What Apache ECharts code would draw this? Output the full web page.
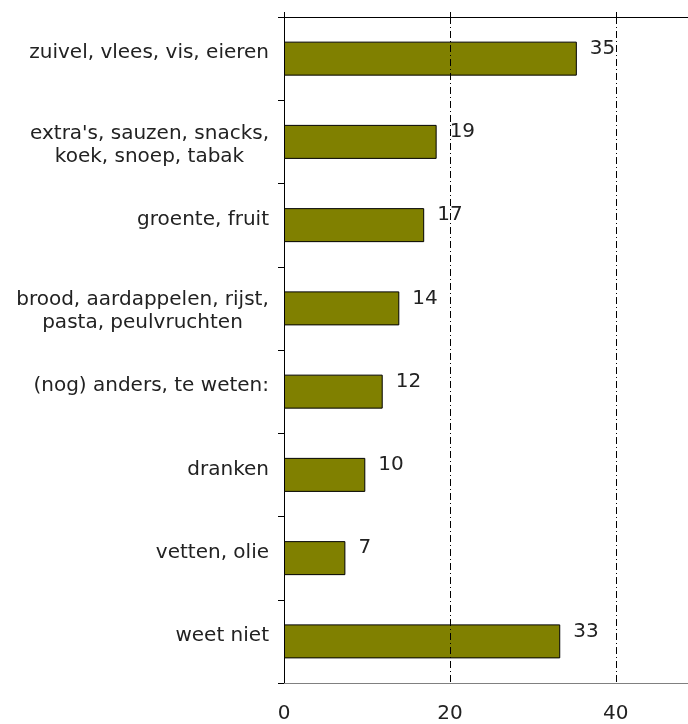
<!DOCTYPE html>
<html>
<head>
<meta charset="utf-8">
<script src="https://cdn.jsdelivr.net/npm/echarts@6/dist/echarts.min.js"></script>
<style>
  html, body { margin: 0; padding: 0; background: #fff; }
</style>
</head>
<body>
<div id="chart" style="width: 688px; height: 724px"></div>
<script>
// categories, top to bottom
const categories = [
  "zuivel, vlees, vis, eieren",
  "extra's, sauzen, snacks,\nkoek, snoep, tabak",
  "groente, fruit",
  "brood, aardappelen, rijst,\npasta, peulvruchten",
  "(nog) anders, te weten:",
  "dranken",
  "vetten, olie",
  "weet niet",
];
// bar lengths
const values = [35.3, 18.4, 16.9, 13.9, 11.9, 9.8, 7.4, 33.3];
// printed value labels
const valueLabels = ["35", "19", "17", "14", "12", "10", "7", "33"];
const xTicks = [0, 20, 40];

const chart = echarts.init(document.getElementById("chart"));
const font = "DejaVu Sans, Verdana, sans-serif";
const fontSize = 20;

// two-line labels are centred line by line, so give each line the width of the longest
const ctx = document.createElement("canvas").getContext("2d");
ctx.font = fontSize + "px " + font;
const rich = { s: { lineHeight: 17 } };
categories.forEach((c, i) => {
  if (c.includes("\n")) {
    const w = Math.max(...c.split("\n").map((l) => ctx.measureText(l).width));
    rich["c" + i] = {
      width: Math.ceil(w),
      align: "center",
      fontSize: fontSize,
      fontFamily: font,
      color: "#222",
      lineHeight: 23,
    };
  }
});

chart.setOption({
  animation: false,
  grid: { left: 284, right: 0, top: 17, bottom: 39 },
  xAxis: [
    {
      type: "value",
      min: 0,
      max: 48.7,
      interval: 10,
      axisLine: { show: true, lineStyle: { color: "#808080", width: 1 } },
      axisTick: { show: false },
      axisLabel: {
        margin: 21,
        color: "#222",
        fontFamily: font,
        fontSize: fontSize,
        showMaxLabel: false,
        formatter: (v) => (xTicks.includes(v) ? String(v) : ""),
      },
      splitLine: { show: false },
    },
    {
      type: "value",
      position: "top",
      min: 0,
      max: 48.7,
      interval: 20,
      axisLine: { show: true, lineStyle: { color: "#000", width: 1 } },
      axisTick: { show: true, length: 5, lineStyle: { color: "#000" } },
      axisLabel: { show: false },
      splitLine: { show: false },
    },
  ],
  yAxis: {
    type: "category",
    data: categories,
    inverse: true,
    axisLine: { show: true, lineStyle: { color: "#000", width: 1 } },
    axisTick: { show: true, length: 6, lineStyle: { color: "#000" } },
    axisLabel: {
      margin: 15,
      color: "#222",
      fontFamily: font,
      fontSize: fontSize,
      lineHeight: 23,
      align: "right",
      padding: [6, 0, 0, 0],
      rich: rich,
      formatter: (v, i) =>
        v.includes("\n")
          ? v.split("\n").map((l) => "{c" + i + "|" + l + "}").join("\n")
          : v + "\n{s| }",
    },
  },
  series: [
    {
      type: "bar",
      data: values,
      barWidth: 34,
      itemStyle: { color: "#808000", borderColor: "#000", borderWidth: 1 },
      label: {
        show: true,
        position: "right",
        distance: 13,
        offset: [0, -10],
        color: "#222",
        fontFamily: font,
        fontSize: fontSize,
        formatter: (p) => valueLabels[p.dataIndex],
      },
      markLine: {
        silent: true,
        symbol: "none",
        label: { show: false },
        lineStyle: { color: "#000", width: 1, type: [7, 3, 1, 3] },
        data: [{ xAxis: 20 }, { xAxis: 40 }],
      },
    },
  ],
});
</script>
</body>
</html>
